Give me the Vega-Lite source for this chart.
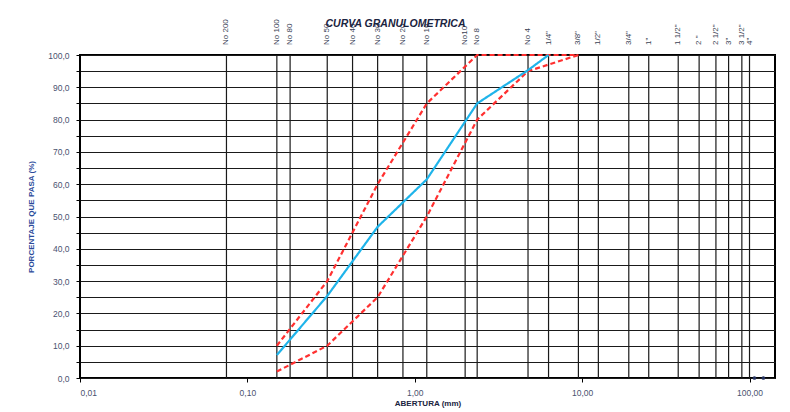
{
  "$schema": "https://vega.github.io/schema/vega-lite/v6.json",
  "width": 695,
  "height": 323,
  "autosize": {"type": "none"},
  "padding": {"left": 80, "top": 55, "right": 15, "bottom": 34},
  "background": "white",
  "title": {
    "text": "CURVA GRANULOMETRICA",
    "font": "Liberation Sans, Arial, sans-serif",
    "fontSize": 10.5,
    "fontWeight": "bold",
    "fontStyle": "italic",
    "color": "#1a2340",
    "anchor": "middle",
    "frame": "group",
    "dx": -32,
    "offset": -10
  },
  "datasets": {
    "sieves": [
      {"sieve": "No 200", "size": 0.075},
      {"sieve": "No 100", "size": 0.15},
      {"sieve": "No 80", "size": 0.18},
      {"sieve": "No 50", "size": 0.3},
      {"sieve": "No 40", "size": 0.425},
      {"sieve": "No 30", "size": 0.6},
      {"sieve": "No 20", "size": 0.85},
      {"sieve": "No 16", "size": 1.18},
      {"sieve": "No10", "size": 2.0},
      {"sieve": "No 8", "size": 2.36},
      {"sieve": "No 4", "size": 4.75},
      {"sieve": "1/4\"", "size": 6.3},
      {"sieve": "3/8\"", "size": 9.5},
      {"sieve": "1/2\"", "size": 12.5},
      {"sieve": "3/4\"", "size": 19.0},
      {"sieve": "1\"", "size": 25.0},
      {"sieve": "1 1/2\"", "size": 37.5},
      {"sieve": "2 \"", "size": 50.0},
      {"sieve": "2 1/2\"", "size": 63.0},
      {"sieve": "3\"", "size": 75.0},
      {"sieve": "3 1/2\"", "size": 90.0},
      {"sieve": "4\"", "size": 100.0}
    ],
    "curves": [
      {"series": "Límite superior", "size": 0.15, "pasa": 10},
      {"series": "Límite superior", "size": 0.3, "pasa": 30},
      {"series": "Límite superior", "size": 0.6, "pasa": 60},
      {"series": "Límite superior", "size": 1.18, "pasa": 85},
      {"series": "Límite superior", "size": 2.36, "pasa": 100},
      {"series": "Límite superior", "size": 4.75, "pasa": 100},
      {"series": "Límite superior", "size": 9.5, "pasa": 100},
      {"series": "Límite inferior", "size": 0.15, "pasa": 2},
      {"series": "Límite inferior", "size": 0.3, "pasa": 10},
      {"series": "Límite inferior", "size": 0.6, "pasa": 25},
      {"series": "Límite inferior", "size": 1.18, "pasa": 50},
      {"series": "Límite inferior", "size": 2.36, "pasa": 80},
      {"series": "Límite inferior", "size": 4.75, "pasa": 95},
      {"series": "Límite inferior", "size": 9.5, "pasa": 100},
      {"series": "Muestra", "size": 0.15, "pasa": 7.1},
      {"series": "Muestra", "size": 0.3, "pasa": 25.4},
      {"series": "Muestra", "size": 0.6, "pasa": 46.8},
      {"series": "Muestra", "size": 1.18, "pasa": 61.5},
      {"series": "Muestra", "size": 2.36, "pasa": 85.0},
      {"series": "Muestra", "size": 4.75, "pasa": 95.3},
      {"series": "Muestra", "size": 6.3, "pasa": 100}
    ],
    "dots": [
      {"size": 107, "pasa": 0},
      {"size": 121, "pasa": 0}
    ]
  },
  "config": {
    "view": {"stroke": "#000000", "strokeWidth": 2},
    "axis": {
      "labelFont": "Liberation Sans, Arial, sans-serif",
      "labelFontSize": 8.5,
      "labelColor": "#4a5270",
      "titleFont": "Liberation Sans, Arial, sans-serif",
      "titleFontSize": 8,
      "titleFontWeight": "bold",
      "tickColor": "#000000",
      "tickSize": 4,
      "domain": false
    }
  },
  "layer": [
    {
      "data": {"name": "sieves"},
      "mark": {"type": "rule", "color": "#1a1a1a", "strokeWidth": 1.2},
      "encoding": {
        "x": {
          "field": "size",
          "type": "quantitative",
          "scale": {"type": "log", "domain": [0.01, 142], "nice": false},
          "axis": {
            "values": [0.01, 0.1, 1, 10, 100],
            "labelExpr": "replace(format(datum.value, '.2f'), '.', ',')",
            "grid": false,
            "labelPadding": 6,
            "title": "ABERTURA (mm)",
            "titleColor": "#1a2340",
            "titlePadding": 3
          }
        }
      }
    },
    {
      "data": {"name": "curves"},
      "mark": {"type": "line", "strokeWidth": 2.2, "clip": false},
      "encoding": {
        "x": {"field": "size", "type": "quantitative"},
        "y": {
          "field": "pasa",
          "type": "quantitative",
          "scale": {"domain": [0, 100], "nice": false},
          "axis": {
            "values": [0, 5, 10, 15, 20, 25, 30, 35, 40, 45, 50, 55, 60, 65, 70, 75, 80, 85, 90, 95, 100],
            "labelExpr": "datum.value % 10 == 0 ? replace(format(datum.value, '.1f'), '.', ',') : ''",
            "labelOverlap": false,
            "grid": true,
            "gridColor": "#1a1a1a",
            "gridWidth": 1.2,
            "gridOpacity": 1,
            "labelPadding": 7,
            "title": "PORCENTAJE QUE PASA (%)",
            "titleColor": "#2a4a9a",
            "titlePadding": 12
          }
        },
        "color": {
          "field": "series",
          "type": "nominal",
          "scale": {"domain": ["Límite superior", "Límite inferior", "Muestra"], "range": ["#ff3030", "#ff3030", "#1fb4ea"]},
          "legend": null
        },
        "strokeDash": {
          "field": "series",
          "type": "nominal",
          "scale": {"domain": ["Límite superior", "Límite inferior", "Muestra"], "range": [[5, 3], [5, 3], [1, 0]]},
          "legend": null
        },
        "strokeWidth": {
          "field": "series",
          "type": "nominal",
          "scale": {"domain": ["Límite superior", "Límite inferior", "Muestra"], "range": [1.6, 1.6, 2.4]},
          "legend": null
        },
        "order": {"field": "size", "type": "quantitative"}
      }
    },
    {
      "data": {"name": "dots"},
      "mark": {"type": "circle", "size": 14, "color": "#23305e", "opacity": 1, "clip": false},
      "encoding": {
        "x": {"field": "size", "type": "quantitative"},
        "y": {
          "field": "pasa",
          "type": "quantitative",
          "axis": {
            "values": [0, 5, 10, 15, 20, 25, 30, 35, 40, 45, 50, 55, 60, 65, 70, 75, 80, 85, 90, 95, 100],
            "labelExpr": "datum.value % 10 == 0 ? replace(format(datum.value, '.1f'), '.', ',') : ''",
            "labelOverlap": false,
            "grid": true,
            "gridColor": "#1a1a1a",
            "gridWidth": 1.2,
            "gridOpacity": 1,
            "labelPadding": 7,
            "title": "PORCENTAJE QUE PASA (%)",
            "titleColor": "#2a4a9a",
            "titlePadding": 12
          }
        }
      }
    },
    {
      "data": {"name": "sieves"},
      "mark": {
        "type": "text",
        "angle": -90,
        "align": "left",
        "baseline": "middle",
        "dx": 10,
        "font": "Liberation Sans, Arial, sans-serif",
        "fontSize": 8,
        "color": "#3a3f55",
        "clip": false
      },
      "encoding": {
        "x": {"field": "size", "type": "quantitative"},
        "y": {
          "datum": 100,
          "type": "quantitative",
          "axis": {
            "values": [0, 5, 10, 15, 20, 25, 30, 35, 40, 45, 50, 55, 60, 65, 70, 75, 80, 85, 90, 95, 100],
            "labelExpr": "datum.value % 10 == 0 ? replace(format(datum.value, '.1f'), '.', ',') : ''",
            "labelOverlap": false,
            "grid": true,
            "gridColor": "#1a1a1a",
            "gridWidth": 1.2,
            "gridOpacity": 1,
            "labelPadding": 7,
            "title": "PORCENTAJE QUE PASA (%)",
            "titleColor": "#2a4a9a",
            "titlePadding": 12
          }
        },
        "text": {"field": "sieve"}
      }
    }
  ]
}
